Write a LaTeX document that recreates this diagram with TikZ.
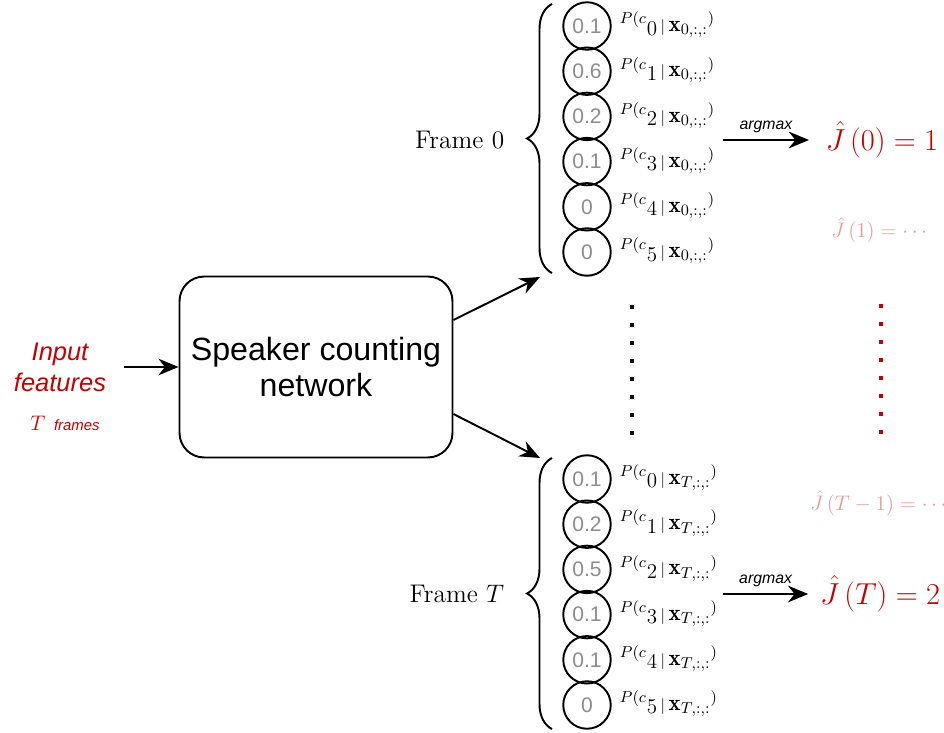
\documentclass[tikz,border=0pt]{standalone}
\usepackage{amsmath}
\usepackage{amssymb}
\usepackage{fontspec}
\setsansfont{Liberation Sans}
\usepackage{tikz}
\usetikzlibrary{arrows.meta, positioning, decorations.pathreplacing}
\definecolor{Count_Red}{HTML}{C40000}
\definecolor{Count_Gray}{HTML}{8C8C8C}

\begin{document}
\begin{tikzpicture}[x=0.02cm, y=-0.02cm, >={Stealth[length=11.5pt, width=9.5pt]},
    line width=1.1pt,
    prob/.style={circle, draw, minimum size=0.95cm, inner sep=0pt,
        text=Count_Gray, font=\sffamily\fontsize{12}{14}\selectfont},
    plabel/.style={anchor=west, inner sep=0pt, font=\fontsize{13}{15}\selectfont},
    curly/.style={decorate, decoration={brace, amplitude=0.5cm}},
    framelabel/.style={anchor=east, font=\fontsize{14.5}{17}\selectfont},
    estimate/.style={text=Count_Red, font=\fontsize{16}{19}\selectfont},
    faded/.style={text=Count_Red, text opacity=0.4, font=\fontsize{11.5}{14}\selectfont},
    argtext/.style={above, font=\sffamily\itshape\fontsize{9}{11}\selectfont}]
    \useasboundingbox (0,0) rectangle (944,733);

    % Input and network
    \node[text=Count_Red, align=center, font=\sffamily\itshape\fontsize{14.5}{17.6}\selectfont]
        (input) at (60,367) {Input\\features};
    \node[text=Count_Red, font=\sffamily\itshape\fontsize{8.5}{10}\selectfont]
        (frames) at (65,423) {{\fontsize{12}{12}\selectfont$T$}\hspace{5pt}frames};
    \node[draw, rounded corners=14pt, minimum width=5.46cm, minimum height=3.62cm,
        align=center, font=\sffamily\fontsize{18.3}{20}\selectfont]
        (net) at (316,367) {Speaker counting\\network};
    \coordinate (inarrow) at (124,367);
    \draw[->] (inarrow) -- (net.west);

    % Frame 0
    \draw[curly] (552,273) -- (552,4);
    \node[framelabel] (frame0) at (511,140) {Frame $0$};
    \foreach \i/\v in {0/0.1, 1/0.6, 2/0.2, 3/0.1, 4/0, 5/0} {
        \node[prob] (p0-\i) at (587,26+45.2*\i) {\v};
        \node[plabel] (l0-\i) at (619,25+45.2*\i)
            {$^{P(c}\raisebox{-2pt}{$\i$}\,{\scriptstyle|}\,\mathbf{x}_{0,:,:}{}^{)}$};
    }

    % Frame T
    \draw[curly] (552,729) -- (552,458);
    \node[framelabel] (frameT) at (511,594) {Frame $T$};
    \foreach \i/\v in {0/0.1, 1/0.2, 2/0.5, 3/0.1, 4/0.1, 5/0} {
        \node[prob] (pT-\i) at (587,479+45.2*\i) {\v};
        \node[plabel] (lT-\i) at (619,478+45.2*\i)
            {$^{P(c}\raisebox{-2pt}{$\i$}\,{\scriptstyle|}\,\mathbf{x}_{T,:,:}{}^{)}$};
    }

    % Network to frames
    \coordinate (in0) at (540,277);
    \coordinate (inT) at (540,458);
    \draw[->] ([yshift=0.94cm]net.east) -- (in0);
    \draw[->] ([yshift=-0.94cm]net.east) -- (inT);

    % Vertical dots
    \foreach \k in {0,...,7} {
        \fill (630,305+18*\k) rectangle ++(4,4);
        \fill[Count_Red] (879,304+18*\k) rectangle ++(4,4);
    }

    % Estimates
    \node[estimate] (j0) at (882,140) {$\hat{J}\,(0) = 1$};
    \node[faded] (j1) at (881,230) {$\hat{J}\,(1) = \cdots$};
    \node[faded] (jTm) at (880,503) {$\hat{J}\,(T-1) = \cdots$};
    \node[estimate] (jT) at (880,594) {$\hat{J}\,(T) = 2$};
    \coordinate (arg0) at (723,140);
    \coordinate (argT) at (723,594);
    \draw[->] (arg0) -- node[argtext] {argmax} ([xshift=-0.2cm]j0.west);
    \draw[->] (argT) -- node[argtext] {argmax} ([xshift=-0.1cm]jT.west);
\end{tikzpicture}
\end{document}
